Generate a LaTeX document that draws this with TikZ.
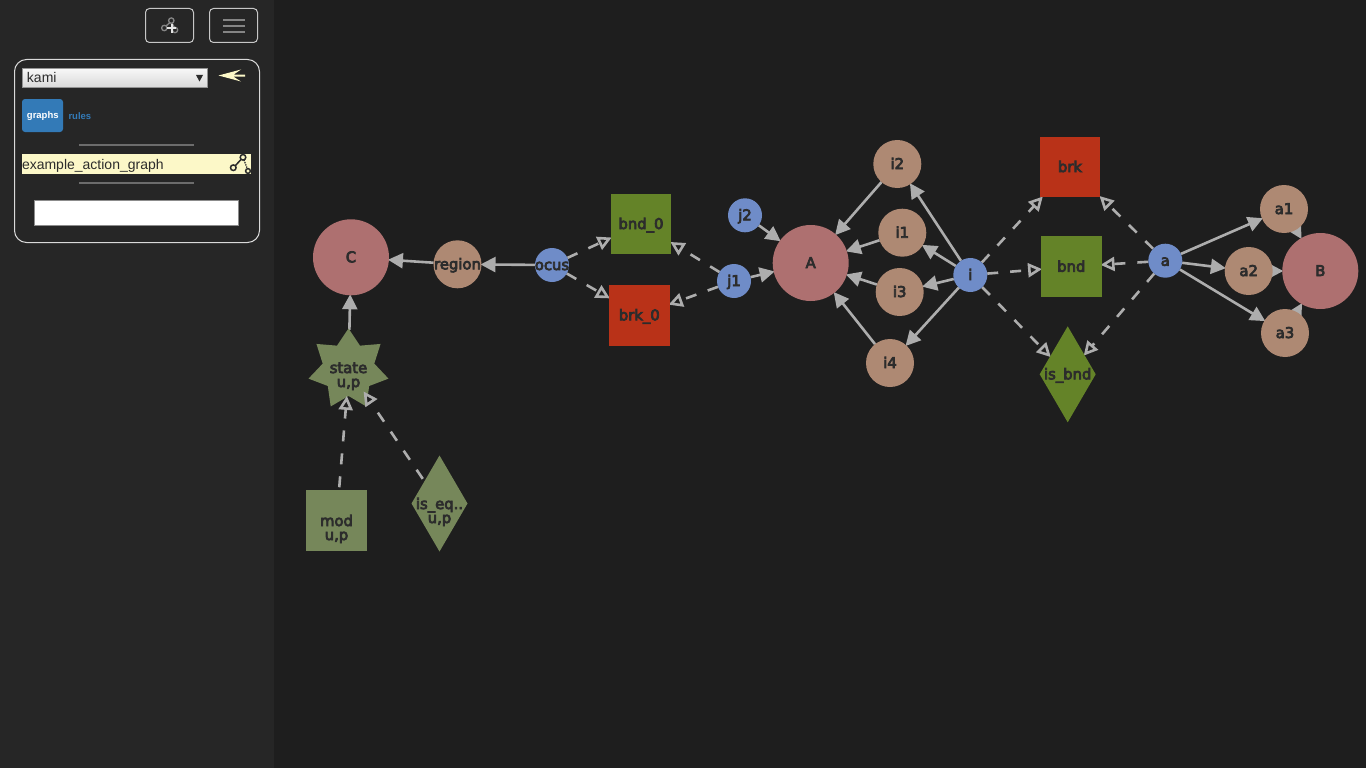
\documentclass[tikz,border=0pt]{standalone}
\usepackage{fontspec}
\setmainfont{Liberation Sans}
\newfontfamily\graphfont[FakeBold=5]{DejaVu Sans}
\usetikzlibrary{arrows.meta,shapes.geometric,positioning}
\definecolor{bgdark}{HTML}{1E1E1E}
\definecolor{sidebar}{HTML}{262626}
\definecolor{edgegray}{HTML}{ADADAD}
\definecolor{labdark}{HTML}{2C2C2C}
\definecolor{rosec}{HTML}{AE7070}
\definecolor{brownc}{HTML}{AE8973}
\definecolor{bluec}{HTML}{6F8CC8}
\definecolor{greenc}{HTML}{648328}
\definecolor{redc}{HTML}{B93218}
\definecolor{olivec}{HTML}{76875A}
\definecolor{cream}{HTML}{FCF8C8}
\definecolor{linkblue}{HTML}{337AB7}
\definecolor{icongray}{HTML}{858585}
\pgfdeclarelayer{backdrop}
\pgfdeclarelayer{edges}
\pgfsetlayers{backdrop,edges,main}
\tikzset{
  x=1pt,y=-1pt,
  every node/.style={inner sep=0pt,outer sep=0pt},
  lab/.style={text=labdark,align=center,text height=13pt,text depth=3pt,font=\graphfont\fontsize{14.8}{14}\selectfont},
  every label/.style={lab},
  big/.style={circle,fill=rosec,minimum size=76pt},
  mid/.style={circle,fill=brownc,minimum size=48pt},
  small/.style={circle,fill=bluec,minimum size=34pt},
  sq/.style={rectangle,minimum size=60.5pt},
  dia/.style={diamond,aspect=0.583,minimum height=96pt,minimum width=56pt},
  solidedge/.style={draw=edgegray,line width=2.6pt,shorten >=-1pt,-{Triangle[length=15pt,width=15pt,fill=edgegray]}},
  dashedge/.style={draw=edgegray,line width=2.6pt,shorten >=-1pt,dash pattern=on 11pt off 12pt,-{Triangle[length=14pt,width=14pt,fill=bgdark]}},
  panelbox/.style={draw=#1,line width=1pt,rounded corners=4pt},
  icon/.style={draw=#1,line width=1.3pt},
  uitext/.style={font=\fontsize{14}{16}\selectfont,text=labdark,anchor=base west},
  tab/.style={font=\bfseries\fontsize{9.5}{10}\selectfont}
}
\begin{document}
\begin{tikzpicture}
\useasboundingbox (0,0) rectangle (1366,768);
\begin{pgfonlayer}{backdrop}
\fill[bgdark] (0,0) rectangle (1366,768);
\fill[sidebar] (0,0) rectangle (273.5,768);
\end{pgfonlayer}
% top buttons
\draw[panelbox=white!78!black] (145.5,8.5) rectangle (193.5,42.5);
\draw[panelbox=white!78!black] (209.5,8.5) rectangle (257.5,42.5);
\draw[icon=icongray] (164.3,28) circle (2.7) (171.3,20.6) circle (2.7) (175,30) circle (2.7);
\draw[icon=icongray] (166,26) -- (170,22.5) (172,23) -- (174.3,27.5);
\draw[white!90!black,line width=2.2pt] (167,28.3) -- (176,28.3) (171.6,24) -- (171.6,33);
\foreach \yy in {20,26,32} \draw[icongray,line width=2.4pt] (223,\yy) -- (245,\yy);
% panel
\draw[draw=white!85!black,line width=1pt,rounded corners=12pt] (14.5,59.5) rectangle (259.5,242.5);
\shade[top color=white!97!black,bottom color=white!85!black] (22.5,68.5) rectangle (207.5,87.5);
\draw[gray!85!white,line width=1pt] (22.5,68.5) rectangle (207.5,87.5);
\node[uitext] (selecttext) at (27,83) {kami};
\fill[labdark] (196,75) -- (203,75) -- (199.5,81.5) -- cycle;
\fill[cream] (218.5,75.5) -- (241,69.5) -- (233.5,74.7) -- (245,74.7) -- (245,76.7) -- (233.5,76.7) -- (241,81.5) -- cycle;
\fill[linkblue,rounded corners=3pt] (22,99) rectangle (63,132);
\node[tab,text=white] (graphstab) at (42.8,116.3) {graphs};
\node[tab,text=linkblue,anchor=west] (rulestab) at (68.5,116.3) {rules};
\fill[gray!85!black] (79,144) rectangle (194,146.2);
\fill[cream] (22,154) rectangle (251,174);
\node[uitext] (graphname) at (22,169) {example\_action\_graph};
\draw[labdark,line width=1.5pt] (233.3,167.7) circle (2.8) (243,157.3) circle (2.8) (248,171) circle (2.4);
\draw[labdark,line width=1.5pt] (235.5,165.5) -- (241,159.5);
\draw[labdark,line width=1.3pt,densely dotted] (244,160) -- (247,168);
\fill[gray!85!black] (79,182) rectangle (194,184.2);
\draw[fill=white,draw=gray!90!white,line width=1pt] (34.5,200.5) rectangle (238.5,225.5);
% graph nodes
\node[big,label={center:C}] (C) at (351,257.3) {};
\node[mid,label={center:region}] (region) at (457.5,264.3) {};
\node[small,label={center:ocus}] (ocus) at (552,265) {};
\node[sq,fill=greenc,label={center:bnd\_0}] (bnd0) at (641,224) {};
\node[sq,fill=redc,label={center:brk\_0}] (brk0) at (639.3,315.3) {};
\node[small,label={center:j1}] (j1) at (734,281) {};
\node[small,label={center:j2}] (j2) at (745,215.3) {};
\node[big,label={center:A}] (A) at (810.7,263) {};
\node[mid,label={center:i2}] (i2) at (897.3,164) {};
\node[mid,label={center:i1}] (i1) at (902.3,232.7) {};
\node[mid,label={center:i3}] (i3) at (899.7,292) {};
\node[mid,label={center:i4}] (i4) at (890,363) {};
\node[small,label={center:i}] (i) at (970.3,275) {};
\node[sq,fill=redc,label={center:brk}] (brk) at (1070,167) {};
\node[sq,fill=greenc,label={center:bnd}] (bnd) at (1071.3,266.7) {};
\node[dia,fill=greenc,label={center:is\_bnd}] (isbnd) at (1067.7,374.3) {};
\node[small,label={center:a}] (a) at (1165.3,260.7) {};
\node[mid,label={center:a1}] (a1) at (1284,209) {};
\node[mid,label={center:a2}] (a2) at (1248.7,271) {};
\node[mid,label={center:a3}] (a3) at (1285,333) {};
\node[big,label={center:B}] (B) at (1320.3,271) {};
\node[star,star points=7,star point ratio=1.55,minimum size=82pt,fill=olivec,label={[yshift=-12.5pt]center:state\\u,p}] (state) at (348.5,369.5) {};
\node[sq,fill=olivec,label={[yshift=-14.5pt]center:mod\\u,p}] (mod) at (336.5,520.5) {};
\node[dia,fill=olivec,label={[yshift=-14.5pt]center:is\_eq..\\u,p}] (iseq) at (439.5,503.5) {};
\node[circle,minimum size=54pt] (stateport) at (349,370) {};
% edges behind the nodes
\begin{pgfonlayer}{edges}
\draw[solidedge] (region) -- (C);
\draw[solidedge] (ocus) -- (region);
\draw[solidedge] (state) -- (C);
\draw[dashedge] (ocus) -- (bnd0);
\draw[dashedge] (ocus) -- (brk0);
\draw[dashedge] (j1) -- (bnd0);
\draw[dashedge] (j1) -- (brk0);
\draw[solidedge] (j1) -- (A);
\draw[solidedge] (j2) -- (A);
\draw[solidedge] (i2) -- (A);
\draw[solidedge] (i1) -- (A);
\draw[solidedge] (i3) -- (A);
\draw[solidedge] (i4) -- (A);
\draw[solidedge] (i) -- (i1);
\draw[solidedge] (i) -- (i2);
\draw[solidedge] (i) -- (i3);
\draw[solidedge] (i) -- (i4);
\draw[dashedge] (i) -- (brk);
\draw[dashedge] (i) -- (bnd);
\draw[dashedge] (i) -- (isbnd);
\draw[dashedge] (a) -- (brk);
\draw[dashedge] (a) -- (bnd);
\draw[dashedge] (a) -- (isbnd);
\draw[solidedge] (a) -- (a1);
\draw[solidedge] (a) -- (a2);
\draw[solidedge] (a) -- (a3);
\draw[solidedge] (a1) -- (B);
\draw[solidedge] (a2) -- (B);
\draw[solidedge] (a3) -- (B);
\end{pgfonlayer}
% edges that end over the star
\draw[dashedge,shorten <=3pt] (mod) -- (stateport);
\draw[dashedge,shorten <=3pt] (iseq) -- (stateport);
\end{tikzpicture}
\end{document}
